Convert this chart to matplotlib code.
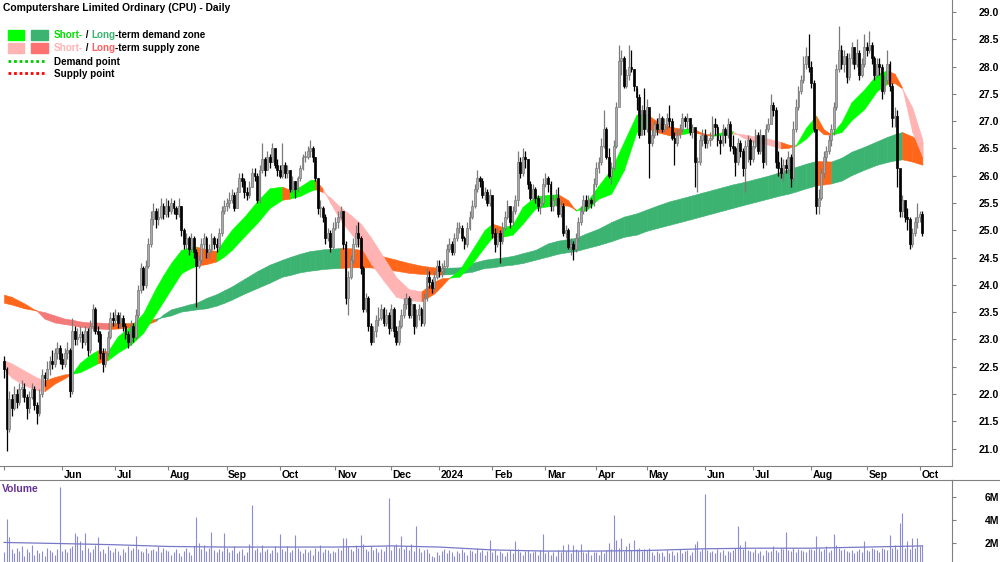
import matplotlib
matplotlib.use("Agg")
import matplotlib.pyplot as plt
from matplotlib.lines import Line2D
from matplotlib.patches import Rectangle
import numpy as np

plt.rcParams["font.family"] = ["Liberation Sans", "DejaVu Sans"]

# ---- daily prices (close / high / low) and volume (millions), by month ----
c_may23 = [22.45, 21.35, 21.90, 21.75, 22.00, 21.85, 22.10, 22.10, 21.95, 21.75, 21.95, 22.10, 21.80, 21.65, 22.00, 22.35, 22.30, 22.45, 22.60, 22.55, 22.75, 22.85, 22.65]
h_may23 = [22.70, 22.50, 22.05, 22.00, 22.15, 22.10, 22.20, 22.25, 22.20, 22.00, 22.05, 22.20, 22.15, 21.85, 22.10, 22.45, 22.40, 22.60, 22.70, 22.80, 22.85, 22.95, 22.90]
l_may23 = [22.30, 20.95, 21.30, 21.60, 21.70, 21.75, 21.80, 21.95, 21.85, 21.55, 21.65, 21.90, 21.70, 21.45, 21.60, 21.95, 22.15, 22.25, 22.35, 22.45, 22.50, 22.65, 22.55]
v_may23 = [1.2, 4.1, 2.5, 1.5, 1.1, 1.6, 1.3, 1.7, 0.9, 1.5, 1.2, 1.8, 1.0, 1.4, 1.1, 1.3, 0.9, 1.6, 1.4, 1.2, 1.0, 1.5, 6.9]

c_jun23 = [22.55, 22.75, 22.80, 22.05, 23.15, 23.00, 23.05, 23.10, 22.95, 23.15, 22.80, 23.25, 23.55, 23.15, 23.10, 22.75, 22.55, 22.75, 23.05, 23.40, 23.35]
h_jun23 = [22.75, 22.85, 22.95, 22.85, 23.40, 23.25, 23.20, 23.25, 23.15, 23.25, 23.20, 23.35, 23.65, 23.60, 23.25, 23.15, 22.85, 22.85, 23.15, 23.50, 23.50]
l_jun23 = [22.45, 22.50, 22.65, 21.95, 22.00, 22.90, 22.90, 22.95, 22.85, 22.90, 22.70, 22.75, 23.15, 23.10, 22.95, 22.65, 22.40, 22.50, 22.70, 23.00, 23.25]
v_jun23 = [1.3, 1.5, 1.2, 1.6, 1.7, 2.9, 2.6, 2.2, 1.4, 2.9, 1.6, 1.2, 1.5, 1.8, 2.5, 1.3, 1.5, 1.1, 1.7, 1.4, 1.2]

c_jul23 = [23.45, 23.30, 23.40, 23.25, 23.10, 22.95, 23.25, 23.05, 23.45, 23.90, 24.30, 24.00, 24.35, 24.75, 25.20, 25.35, 25.20, 25.25, 25.45, 25.30, 25.45]
h_jul23 = [23.55, 23.50, 23.50, 23.45, 23.30, 23.15, 23.35, 23.30, 23.55, 24.00, 24.40, 24.35, 24.45, 24.85, 25.35, 25.50, 25.40, 25.40, 25.60, 25.50, 25.60]
l_jul23 = [23.25, 23.20, 23.20, 23.15, 23.00, 22.85, 22.90, 22.95, 23.00, 23.40, 23.85, 23.90, 23.95, 24.30, 24.70, 25.10, 25.05, 25.10, 25.20, 25.20, 25.25]
v_jul23 = [1.6, 1.3, 1.0, 1.5, 1.2, 1.7, 1.4, 1.6, 2.6, 1.5, 1.3, 1.2, 1.6, 1.1, 1.4, 1.5, 1.3, 1.7, 1.2, 1.6, 1.4]

c_aug23 = [25.35, 25.50, 25.40, 25.30, 25.45, 25.00, 24.75, 24.85, 24.65, 24.85, 24.60, 24.35, 24.45, 24.75, 24.85, 24.60, 24.65, 24.85, 24.75, 24.70, 24.95, 25.35, 25.45]
h_aug23 = [25.55, 25.60, 25.55, 25.45, 25.60, 25.45, 25.05, 24.95, 24.90, 24.95, 24.90, 24.65, 24.55, 24.85, 24.95, 24.90, 24.75, 24.95, 24.90, 24.85, 25.05, 25.45, 25.55]
l_aug23 = [25.25, 25.30, 25.30, 25.20, 25.25, 24.90, 24.65, 24.65, 24.55, 24.60, 24.50, 23.60, 24.30, 24.40, 24.65, 24.50, 24.50, 24.60, 24.65, 24.60, 24.65, 24.90, 25.30]
v_aug23 = [1.3, 1.0, 1.2, 1.5, 1.1, 0.9, 1.3, 1.6, 1.2, 1.0, 1.7, 4.3, 2.0, 1.5, 1.8, 1.3, 1.6, 3.0, 1.4, 1.2, 1.5, 1.3, 2.9]

c_sep23 = [25.50, 25.55, 25.65, 25.40, 25.70, 25.95, 25.90, 25.70, 25.65, 25.80, 26.05, 26.00, 25.55, 26.10, 26.30, 26.10, 26.35, 26.25, 26.50, 26.20, 26.10]
h_sep23 = [25.60, 25.70, 25.75, 25.70, 25.80, 26.05, 26.05, 25.95, 25.80, 25.90, 26.15, 26.15, 26.05, 26.20, 26.60, 26.35, 26.45, 26.40, 26.60, 26.50, 26.30]
l_sep23 = [25.35, 25.40, 25.50, 25.35, 25.40, 25.70, 25.80, 25.60, 25.55, 25.60, 25.80, 25.90, 25.50, 25.50, 26.05, 26.00, 26.10, 26.15, 26.25, 26.15, 26.00]
v_sep23 = [1.6, 1.2, 1.4, 1.7, 1.1, 1.3, 1.5, 1.0, 1.2, 1.9, 5.3, 1.4, 1.6, 1.2, 1.8, 1.3, 1.5, 1.1, 1.4, 1.7, 1.2]

c_oct23 = [26.00, 26.20, 26.05, 26.10, 25.75, 25.90, 25.75, 25.95, 26.15, 26.35, 26.35, 26.45, 26.50, 26.35, 25.95, 25.40, 25.40, 25.25, 24.85, 24.95, 24.70, 25.05]
h_oct23 = [26.20, 26.60, 26.25, 26.20, 26.10, 26.00, 25.90, 26.00, 26.20, 26.40, 26.45, 26.55, 26.65, 26.55, 26.35, 25.95, 25.55, 25.45, 25.30, 25.05, 25.00, 25.15]
l_oct23 = [25.95, 25.95, 25.95, 25.95, 25.70, 25.70, 25.60, 25.70, 25.90, 26.10, 26.25, 26.30, 26.35, 26.25, 25.90, 25.30, 25.25, 25.15, 24.75, 24.80, 24.60, 24.65]
v_oct23 = [2.8, 1.5, 1.3, 1.7, 1.2, 1.4, 2.7, 1.6, 1.3, 1.1, 1.5, 1.2, 1.4, 1.0, 1.6, 1.3, 1.8, 1.2, 1.5, 1.4, 1.1, 1.3]

c_nov23 = [25.15, 25.25, 25.35, 24.75, 23.75, 24.15, 24.45, 24.75, 24.95, 24.85, 24.30, 23.55, 23.75, 23.25, 22.95, 23.15, 23.35, 23.40, 23.55, 23.30, 23.45, 23.20]
h_nov23 = [25.25, 25.35, 25.45, 25.35, 24.80, 24.25, 24.55, 24.85, 25.10, 25.15, 24.90, 24.35, 23.85, 23.80, 23.30, 23.25, 23.45, 23.60, 23.65, 23.60, 23.55, 23.50]
l_nov23 = [25.00, 25.05, 25.20, 24.65, 23.65, 23.45, 24.10, 24.40, 24.70, 24.70, 24.20, 23.50, 23.50, 23.15, 22.90, 22.95, 23.05, 23.25, 23.35, 23.25, 23.25, 23.10]
v_nov23 = [1.2, 1.6, 1.4, 2.4, 2.4, 1.7, 1.5, 1.3, 1.8, 1.6, 2.7, 1.9, 1.5, 1.3, 1.7, 1.4, 1.6, 1.2, 1.5, 1.3, 1.7, 5.9]

c_dec23 = [23.55, 23.15, 22.95, 23.25, 23.45, 23.65, 23.75, 23.45, 23.65, 23.25, 23.45, 23.55, 23.30, 23.75, 24.15, 24.05, 23.95, 24.15, 24.35]
h_dec23 = [23.65, 23.60, 23.25, 23.35, 23.55, 23.75, 23.85, 23.80, 23.75, 23.65, 23.55, 23.65, 23.60, 23.85, 24.30, 24.25, 24.10, 24.25, 24.45]
l_dec23 = [23.15, 23.05, 22.90, 22.90, 23.20, 23.40, 23.55, 23.40, 23.40, 23.10, 23.20, 23.35, 23.25, 23.25, 23.70, 23.95, 23.85, 23.90, 24.10]
v_dec23 = [1.4, 1.8, 1.9, 1.6, 2.6, 1.5, 1.7, 1.4, 1.9, 1.3, 3.5, 1.6, 1.2, 1.4, 1.5, 1.1, 0.9, 0.8, 1.2]

c_jan24 = [24.25, 24.30, 24.35, 24.65, 24.75, 24.60, 24.85, 25.05, 25.05, 24.85, 24.75, 25.05, 25.25, 25.45, 25.75, 25.95, 25.90, 25.65, 25.70, 25.50, 25.65]
h_jan24 = [24.45, 24.40, 24.45, 24.75, 24.85, 24.80, 24.95, 25.15, 25.15, 25.10, 24.90, 25.15, 25.35, 25.55, 25.85, 26.10, 26.00, 25.95, 25.80, 25.75, 25.75]
l_jan24 = [24.15, 24.15, 24.20, 24.30, 24.60, 24.55, 24.55, 24.80, 24.95, 24.80, 24.65, 24.70, 25.00, 25.20, 25.40, 25.70, 25.80, 25.60, 25.55, 25.45, 25.45]
v_jan24 = [1.0, 1.3, 1.5, 1.1, 1.4, 1.2, 0.9, 1.3, 1.1, 1.5, 1.2, 1.0, 1.4, 1.3, 1.1, 1.6, 1.2, 1.4, 1.0, 1.3, 2.3]

c_feb24 = [24.95, 24.75, 24.95, 24.80, 25.05, 25.25, 25.45, 25.15, 25.35, 25.55, 26.25, 26.05, 26.35, 26.30, 25.85, 25.60, 25.75, 25.60, 25.45, 25.50, 25.85]
h_feb24 = [25.65, 25.05, 25.05, 25.00, 25.15, 25.35, 25.55, 25.45, 25.45, 25.65, 26.45, 26.35, 26.50, 26.45, 26.30, 25.90, 25.85, 25.80, 25.65, 25.60, 25.95]
l_feb24 = [24.85, 24.60, 24.70, 24.40, 24.75, 25.00, 25.20, 25.05, 25.10, 25.30, 25.45, 25.95, 26.00, 26.15, 25.75, 25.55, 25.55, 25.50, 25.35, 25.30, 25.45]
v_feb24 = [1.2, 1.4, 1.0, 1.3, 1.1, 0.9, 1.2, 1.4, 1.1, 2.2, 1.5, 1.2, 1.0, 1.3, 1.4, 1.1, 1.2, 1.3, 1.0, 1.4, 2.8]

c_mar24 = [25.95, 25.85, 25.45, 25.55, 25.60, 25.30, 25.45, 24.95, 25.00, 24.70, 24.75, 24.65, 24.85, 25.15, 25.35, 25.55, 25.45, 25.55, 25.50, 25.85]
h_mar24 = [26.05, 26.00, 25.90, 25.65, 25.75, 25.80, 25.55, 25.50, 25.10, 25.05, 24.85, 24.80, 24.95, 25.25, 25.45, 25.65, 25.65, 25.65, 25.60, 25.95]
l_mar24 = [25.80, 25.70, 25.35, 25.35, 25.45, 25.25, 25.25, 24.90, 24.85, 24.65, 24.55, 24.45, 24.60, 24.80, 25.10, 25.30, 25.35, 25.40, 25.40, 25.45]
v_mar24 = [1.1, 1.3, 1.0, 1.2, 0.9, 1.4, 1.2, 1.8, 1.3, 1.9, 1.1, 1.8, 1.5, 1.3, 1.9, 1.2, 1.1, 1.4, 1.0, 1.2]

c_apr24 = [26.15, 26.25, 26.55, 26.85, 26.35, 26.00, 26.15, 26.55, 27.25, 28.10, 28.15, 27.65, 27.85, 28.00, 27.95, 27.65, 27.45, 26.75, 27.20, 26.85]
h_apr24 = [26.25, 26.35, 26.70, 27.20, 26.90, 26.50, 26.25, 26.65, 27.35, 28.40, 28.30, 28.20, 27.95, 28.40, 28.30, 27.95, 27.60, 27.50, 27.30, 27.60]
l_apr24 = [25.80, 26.05, 26.20, 26.50, 26.30, 25.95, 25.85, 26.10, 26.50, 27.70, 27.85, 27.60, 27.60, 27.75, 27.90, 27.55, 27.20, 26.70, 26.75, 26.75]
v_apr24 = [1.2, 1.0, 1.3, 1.1, 1.4, 2.0, 1.5, 4.4, 2.3, 1.6, 2.4, 1.3, 1.7, 2.0, 1.4, 2.3, 1.5, 1.6, 1.3, 1.5]

c_may24 = [27.25, 26.60, 26.75, 26.95, 26.85, 27.05, 26.85, 26.95, 27.05, 27.00, 26.70, 26.60, 26.75, 26.85, 27.05, 27.00, 27.05, 26.80, 26.90, 26.25, 26.25, 26.65, 26.75]
h_may24 = [27.40, 27.20, 26.85, 27.00, 27.05, 27.15, 27.10, 27.05, 27.15, 27.30, 27.05, 26.80, 26.85, 26.95, 27.15, 27.10, 27.15, 27.05, 26.95, 26.85, 26.35, 26.75, 26.85]
l_may24 = [26.80, 25.95, 26.55, 26.70, 26.75, 26.80, 26.80, 26.80, 26.85, 26.90, 26.65, 26.20, 26.55, 26.70, 26.80, 26.90, 26.85, 26.75, 26.70, 25.80, 25.70, 26.20, 26.55]
v_may24 = [1.4, 1.6, 1.2, 1.0, 1.3, 1.1, 1.2, 0.9, 1.4, 1.1, 1.3, 1.0, 1.2, 1.5, 1.1, 1.3, 1.4, 1.0, 1.2, 1.9, 2.2, 1.3, 1.5]

c_jun24 = [26.60, 26.65, 26.70, 26.95, 26.90, 26.65, 26.60, 26.85, 26.75, 26.95, 26.55, 26.50, 26.25, 26.60, 26.45, 26.15, 26.55, 26.65, 26.30]
h_jun24 = [26.85, 26.75, 26.80, 27.10, 27.05, 26.95, 26.75, 26.95, 26.90, 27.05, 27.00, 26.75, 26.55, 26.70, 26.65, 26.50, 26.65, 26.75, 26.70]
l_jun24 = [26.50, 26.50, 26.55, 26.65, 26.75, 26.55, 26.40, 26.55, 26.60, 26.70, 26.45, 26.40, 26.00, 26.20, 26.35, 26.00, 25.70, 26.25, 26.20]
v_jun24 = [6.3, 1.4, 1.2, 1.3, 1.1, 1.5, 1.2, 1.4, 1.0, 1.3, 1.2, 1.4, 1.6, 3.5, 1.8, 1.5, 2.2, 1.4, 1.3]

c_jul24 = [26.55, 26.75, 26.45, 26.75, 26.25, 26.85, 26.95, 27.30, 27.20, 26.25, 26.15, 26.05, 26.20, 26.15, 26.35, 25.95, 26.85, 27.25, 27.55, 27.75, 28.05, 28.20, 28.00]
h_jul24 = [26.65, 26.85, 26.80, 26.85, 26.75, 26.95, 27.05, 27.50, 27.35, 27.25, 26.45, 26.35, 26.30, 26.30, 26.45, 26.40, 27.00, 27.40, 27.65, 27.85, 28.20, 28.35, 28.60]
l_jul24 = [26.25, 26.50, 26.40, 26.40, 26.15, 26.20, 26.80, 26.95, 27.10, 26.15, 26.00, 25.95, 25.90, 26.05, 26.05, 25.80, 25.90, 26.80, 27.20, 27.50, 27.70, 27.95, 27.90]
v_jul24 = [1.2, 1.5, 1.1, 1.3, 1.0, 1.4, 1.2, 1.3, 1.7, 1.4, 1.2, 1.6, 1.5, 3.0, 1.4, 1.3, 1.6, 1.2, 1.5, 1.4, 1.3, 1.2, 1.5]

c_aug24 = [27.70, 26.85, 25.45, 25.60, 26.05, 26.35, 26.45, 26.65, 26.85, 27.25, 27.95, 28.30, 28.05, 28.20, 27.80, 28.15, 28.35, 28.05, 28.25, 27.85, 28.05, 28.35]
h_aug24 = [28.10, 27.75, 26.45, 25.75, 26.15, 26.45, 26.55, 26.75, 26.95, 27.35, 28.05, 28.75, 28.40, 28.30, 28.25, 28.25, 28.45, 28.35, 28.50, 28.30, 28.15, 28.60]
l_aug24 = [27.60, 26.80, 25.30, 25.30, 25.55, 25.95, 26.25, 26.40, 26.55, 26.75, 27.20, 27.90, 27.95, 27.90, 27.70, 27.75, 28.05, 27.95, 28.00, 27.75, 27.80, 28.00]
v_aug24 = [1.5, 1.4, 2.6, 1.6, 1.3, 1.5, 1.7, 1.2, 1.4, 2.8, 1.8, 1.6, 1.4, 1.5, 1.3, 1.2, 1.4, 1.1, 1.3, 1.5, 1.2, 2.2]

c_sep24 = [28.30, 28.40, 28.15, 27.85, 28.05, 28.00, 27.55, 27.75, 28.05, 27.65, 27.05, 27.10, 26.15, 25.35, 25.55, 25.25, 25.20, 24.75, 24.95, 25.15, 25.25]
h_sep24 = [28.45, 28.65, 28.45, 28.20, 28.15, 28.15, 28.05, 27.85, 28.30, 28.10, 27.70, 27.25, 27.20, 26.00, 25.65, 25.55, 25.40, 25.25, 25.05, 25.25, 25.50]
l_sep24 = [28.20, 28.25, 28.05, 27.75, 27.80, 27.85, 27.40, 27.50, 27.70, 27.55, 26.90, 26.90, 25.80, 25.25, 25.25, 25.15, 25.00, 24.65, 24.70, 24.90, 25.05]
v_sep24 = [1.4, 1.3, 1.6, 1.5, 1.4, 1.2, 1.6, 1.5, 1.4, 2.7, 1.6, 1.8, 1.5, 3.7, 4.6, 1.6, 2.2, 1.5, 2.4, 1.6, 2.4]

c_oct24 = [25.30, 24.95]
h_oct24 = [25.35, 25.35]
l_oct24 = [25.15, 24.90]
v_oct24 = [1.7, 1.8]

first_open = 22.60

month_labels = ["", "Jun", "Jul", "Aug", "Sep", "Oct", "Nov", "Dec", "2024",
                "Feb", "Mar", "Apr", "May", "Jun", "Jul", "Aug", "Sep", "Oct"]
month_close = [c_may23, c_jun23, c_jul23, c_aug23, c_sep23, c_oct23, c_nov23, c_dec23, c_jan24,
               c_feb24, c_mar24, c_apr24, c_may24, c_jun24, c_jul24, c_aug24, c_sep24, c_oct24]
month_high = [h_may23, h_jun23, h_jul23, h_aug23, h_sep23, h_oct23, h_nov23, h_dec23, h_jan24,
              h_feb24, h_mar24, h_apr24, h_may24, h_jun24, h_jul24, h_aug24, h_sep24, h_oct24]
month_low = [l_may23, l_jun23, l_jul23, l_aug23, l_sep23, l_oct23, l_nov23, l_dec23, l_jan24,
             l_feb24, l_mar24, l_apr24, l_may24, l_jun24, l_jul24, l_aug24, l_sep24, l_oct24]
month_vol = [v_may23, v_jun23, v_jul23, v_aug23, v_sep23, v_oct23, v_nov23, v_dec23, v_jan24,
             v_feb24, v_mar24, v_apr24, v_may24, v_jun24, v_jul24, v_aug24, v_sep24, v_oct24]

# ---- zone edges (fast / slow averages) read at these trading days ----
zone_day = [0, 3, 8, 13, 16, 20, 24, 27, 30, 34, 37, 41, 45, 50, 55, 60, 63, 66, 70, 73,
            76, 80, 84, 87, 90, 95, 100, 105, 110, 113, 117, 121, 123, 126, 129, 133, 137, 141, 145, 150,
            155, 160, 165, 170, 173, 176, 180, 185, 190, 193, 197, 201, 205, 210, 215, 219, 223, 226, 230, 235,
            240, 245, 250, 254, 258, 263, 268, 272, 276, 280, 284, 288, 292, 297, 302, 307, 310, 313, 317, 321,
            324, 327, 331, 335, 340, 345, 349, 352, 355, 359, 363]
st_fast = [22.45, 22.30, 22.16, 22.07, 22.05, 22.19, 22.29, 22.38, 22.57, 22.72, 22.80, 22.78, 23.06, 23.24, 23.48, 23.94, 24.18, 24.40, 24.64, 24.68,
           24.70, 24.65, 24.62, 24.82, 25.01, 25.25, 25.53, 25.77, 25.80, 25.74, 25.80, 25.92, 25.93, 25.76, 25.50, 25.18, 24.95, 24.70, 24.39, 24.08,
           23.78, 23.72, 23.70, 23.84, 23.98, 24.13, 24.27, 24.64, 25.01, 25.12, 25.06, 25.10, 25.43, 25.62, 25.65, 25.66, 25.55, 25.36, 25.50, 25.82,
           26.12, 26.62, 27.12, 27.13, 27.00, 26.90, 26.86, 26.87, 26.78, 26.75, 26.80, 26.82, 26.70, 26.60, 26.57, 26.50, 26.51, 26.56, 26.88, 27.10,
           26.85, 26.76, 26.98, 27.35, 27.58, 27.86, 27.93, 27.87, 27.62, 26.80, 26.35]
st_slow = [22.62, 22.56, 22.43, 22.30, 22.25, 22.31, 22.36, 22.37, 22.40, 22.49, 22.56, 22.62, 22.76, 22.90, 23.12, 23.48, 23.70, 23.92, 24.21, 24.29,
           24.35, 24.38, 24.43, 24.52, 24.64, 24.89, 25.13, 25.41, 25.56, 25.58, 25.63, 25.72, 25.75, 25.70, 25.60, 25.42, 25.28, 25.12, 24.87, 24.51,
           24.14, 23.92, 23.88, 24.06, 24.12, 24.13, 24.15, 24.39, 24.70, 24.87, 24.88, 24.92, 25.12, 25.40, 25.44, 25.47, 25.45, 25.38, 25.36, 25.58,
           25.67, 26.10, 26.80, 26.88, 26.80, 26.74, 26.76, 26.80, 26.76, 26.73, 26.75, 26.77, 26.76, 26.72, 26.68, 26.62, 26.57, 26.55, 26.68, 26.88,
           26.76, 26.75, 26.80, 27.02, 27.22, 27.55, 27.68, 27.70, 27.60, 27.25, 26.66]
lt_fast = [23.82, 23.78, 23.66, 23.52, 23.38, 23.31, 23.28, 23.26, 23.23, 23.21, 23.20, 23.19, 23.20, 23.22, 23.25, 23.34, 23.46, 23.55, 23.60, 23.64,
           23.67, 23.76, 23.83, 23.90, 23.97, 24.11, 24.25, 24.37, 24.46, 24.51, 24.57, 24.62, 24.63, 24.65, 24.66, 24.675, 24.67, 24.64, 24.61, 24.52,
           24.46, 24.40, 24.35, 24.32, 24.31, 24.315, 24.32, 24.40, 24.46, 24.48, 24.50, 24.53, 24.58, 24.64, 24.76, 24.81, 24.84, 24.86, 24.94, 25.03,
           25.15, 25.25, 25.31, 25.38, 25.45, 25.53, 25.59, 25.64, 25.69, 25.74, 25.79, 25.84, 25.88, 25.94, 26.00, 26.07, 26.12, 26.16, 26.22, 26.27,
           26.265, 26.26, 26.33, 26.44, 26.53, 26.63, 26.71, 26.76, 26.80, 26.72, 26.62]
lt_slow = [23.67, 23.64, 23.57, 23.53, 23.50, 23.44, 23.38, 23.36, 23.33, 23.31, 23.31, 23.30, 23.30, 23.30, 23.33, 23.38, 23.41, 23.44, 23.51, 23.53,
           23.55, 23.57, 23.62, 23.67, 23.73, 23.84, 23.94, 24.04, 24.15, 24.18, 24.23, 24.26, 24.27, 24.29, 24.30, 24.31, 24.32, 24.32, 24.32, 24.28,
           24.26, 24.22, 24.20, 24.19, 24.19, 24.195, 24.21, 24.24, 24.31, 24.32, 24.35, 24.37, 24.40, 24.46, 24.52, 24.57, 24.60, 24.62, 24.67, 24.73,
           24.80, 24.88, 24.92, 24.99, 25.04, 25.10, 25.16, 25.21, 25.26, 25.31, 25.36, 25.41, 25.46, 25.52, 25.58, 25.64, 25.67, 25.71, 25.77, 25.82,
           25.84, 25.86, 25.91, 26.01, 26.11, 26.20, 26.25, 26.28, 26.30, 26.26, 26.20]

# average volume line (millions) at month starts
avg_day = [0, 23, 44, 65, 88, 109, 131, 153, 172, 193, 214, 234, 254, 277, 296, 319, 341, 363]
avg_vol = [2.05, 1.95, 1.85, 1.70, 1.65, 1.65, 1.65, 1.75, 1.65, 1.40, 1.30, 1.30, 1.35, 1.50, 1.55, 1.55, 1.65, 1.75]

SHORT_UP, LONG_UP = "#00ff00", "#3cb371"
SHORT_DN, LONG_DN = "#ffb3b3", "#f47a7a"
MIXED = "#ff6619"
VOL_C = "#8c8cd6"

close = np.concatenate(month_close)
high = np.concatenate(month_high)
low = np.concatenate(month_low)
vol = np.concatenate(month_vol)
opn = np.concatenate([[first_open], close[:-1]])
days = np.arange(len(close))
month_start = np.cumsum([0] + [len(m) for m in month_close[:-1]])

W, H = 1000, 562
fig = plt.figure(figsize=(W / 100, H / 100), dpi=100)
ax = fig.add_axes([0, 96 / H, 952 / W, 466 / H])
axv = fig.add_axes([0, 0, 952 / W, 82 / H])
xlim = (-1.6, 374.7)


def draw_zone(fast, slow, up_c, dn_c, z):
    fast, slow = np.array(fast), np.array(slow)
    for j in range(len(zone_day) - 1):
        rising = fast[j + 1] > fast[j]
        above = fast[j] + fast[j + 1] >= slow[j] + slow[j + 1]
        if above and rising:
            col = up_c
        elif not above and not rising:
            col = dn_c
        else:
            col = MIXED
        xs = zone_day[j:j + 2]
        ax.fill_between(xs, fast[j:j + 2], slow[j:j + 2], color=col,
                        lw=0.4, edgecolor=col, zorder=z)


draw_zone(lt_fast, lt_slow, LONG_UP, LONG_DN, 1)
draw_zone(st_fast, st_slow, SHORT_UP, SHORT_DN, 2)

# candles
up = close >= opn
body_lo = np.minimum(opn, close)
body_h = np.maximum(np.abs(close - opn), 0.02)
ax.vlines(days[up], low[up], high[up], colors="#7a7a7a", lw=0.9, zorder=3)
ax.vlines(days[~up], low[~up], high[~up], colors="black", lw=0.9, zorder=3)
ax.bar(days[up], body_h[up], bottom=body_lo[up], width=0.72, color="#aaaaaa",
       edgecolor="#7a7a7a", lw=0.5, zorder=4)
ax.bar(days[~up], body_h[~up], bottom=body_lo[~up], width=0.72, color="black",
       edgecolor="black", lw=0.5, zorder=4)

ax.set_xlim(*xlim)
ax.set_ylim(20.68, 29.22)
for s in ["top", "left"]:
    ax.spines[s].set_visible(False)
for s in ["right", "bottom"]:
    ax.spines[s].set_color("#808080")
    ax.spines[s].set_linewidth(0.8)
yt = np.arange(21.0, 29.01, 0.5)
ax.yaxis.tick_right()
ax.set_yticks(yt)
ax.set_yticklabels([f"{v:.1f}" for v in yt], fontsize=7.5, fontweight="bold", ha="right")
ax.tick_params(axis="y", length=3, color="#808080", pad=31)
ax.set_xticks(month_start)
ax.set_xticklabels([])
ax.tick_params(axis="x", length=3, color="#808080")
for d, lab in zip(month_start, month_labels):
    ax.text(d + 0.6, -0.008, lab, transform=ax.get_xaxis_transform(), ha="left", va="top",
            fontsize=7.5, fontweight="bold")

# volume
axv.vlines(days, 0, vol, colors=VOL_C, lw=0.8)
axv.plot(avg_day, avg_vol, color="#7878c8", lw=0.9)
axv.set_xlim(*xlim)
axv.set_ylim(0.35, 7.48)
for s in ["bottom", "left"]:
    axv.spines[s].set_visible(False)
for s in ["right", "top"]:
    axv.spines[s].set_color("#808080")
    axv.spines[s].set_linewidth(0.8)
axv.set_xticks([])
axv.yaxis.tick_right()
axv.set_yticks([2, 4, 6])
axv.set_yticklabels(["2M", "4M", "6M"], fontsize=7.5, fontweight="bold", ha="right")
axv.tick_params(axis="y", length=3, color="#808080", pad=31)
fig.add_artist(Line2D([952 / W, 1], [82 / H, 82 / H], color="#808080", lw=0.8))
fig.text(2 / W, 1 - 489 / H, "Volume", color="#663399", fontsize=7.5, fontweight="bold", va="center")

# title and legend
fig.text(3 / W, 1 - 8 / H, "Computershare Limited Ordinary (CPU) - Daily", fontsize=7.35,
         fontweight="bold", va="center")
renderer = fig.canvas.get_renderer()


def rich(px, py, parts):
    x = px / W
    for s, col in parts:
        t = fig.text(x, 1 - py / H, s, color=col, fontsize=7.1, fontweight="bold", va="center")
        x = t.get_window_extent(renderer=renderer).x1 / W


for (py, c1, c2) in [(35, SHORT_UP, LONG_UP), (48, SHORT_DN, "#ff7070")]:
    fig.add_artist(Rectangle((8 / W, 1 - (py + 5) / H), 16 / W, 10 / H, color=c1))
    fig.add_artist(Rectangle((31 / W, 1 - (py + 5) / H), 17 / W, 10 / H, color=c2))
rich(54, 35, [("Short-", "#00dd00"), (" / ", "black"), ("Long", LONG_UP), ("-term demand zone", "black")])
rich(54, 48, [("Short-", SHORT_DN), (" / ", "black"), ("Long", "#ff6060"), ("-term supply zone", "black")])
fig.add_artist(Line2D([8 / W, 45 / W], [1 - 61 / H] * 2, color="#00cc00", lw=2, ls=(0, (1, 1))))
fig.add_artist(Line2D([8 / W, 45 / W], [1 - 73 / H] * 2, color="#ff0000", lw=2, ls=(0, (1, 1))))
rich(54, 62, [("Demand point", "black")])
rich(54, 74, [("Supply point", "black")])

fig.savefig("out.png", dpi=100)
